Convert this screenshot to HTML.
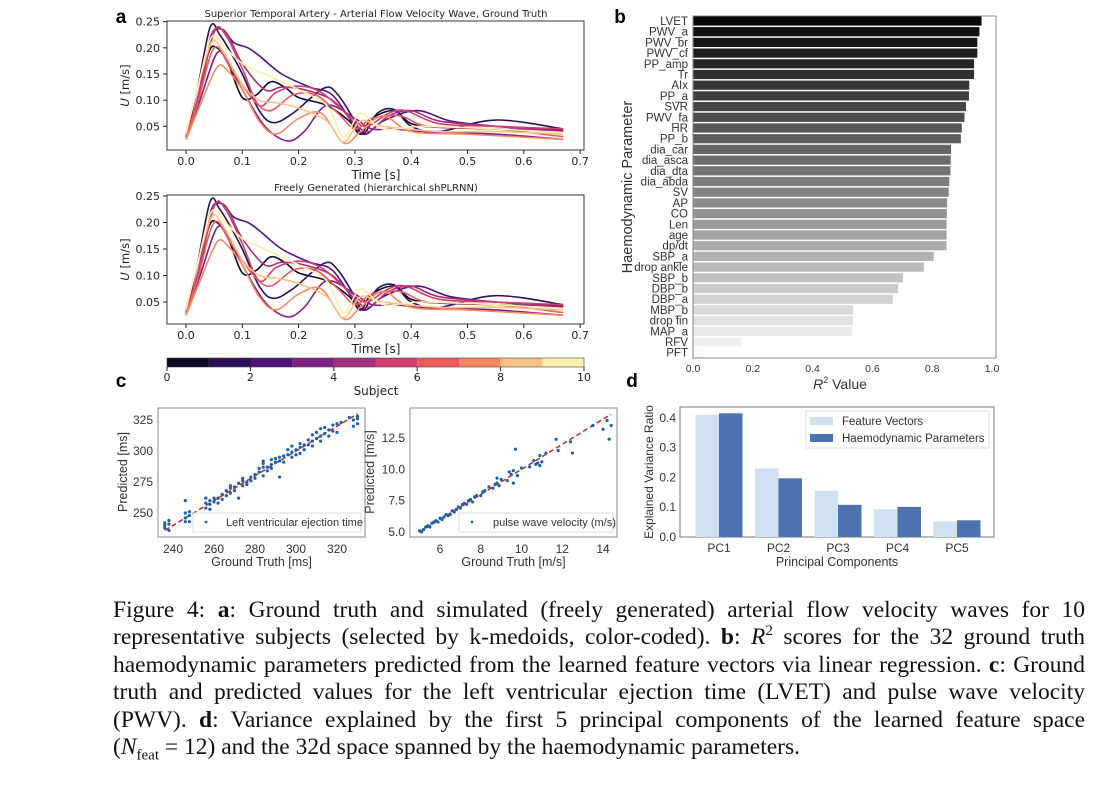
<!DOCTYPE html>
<html><head><meta charset="utf-8"><style>
body{margin:0;background:#fff;width:1116px;height:796px;overflow:hidden;position:relative}
svg{position:absolute;left:0;top:0}
.cap{position:absolute;left:113px;width:972px;font-family:"Liberation Serif",serif;font-size:23.5px;text-align:justify;text-align-last:justify;white-space:nowrap;line-height:28px;color:#111}
</style></head><body>
<svg id="fig" width="1116" height="796"></svg>
<div class="cap" style="top:596px">Figure 4: <b>a</b>: Ground truth and simulated (freely generated) arterial flow velocity waves for 10</div>
<div class="cap" style="top:623px">representative subjects (selected by k-medoids, color-coded). <b>b</b>: <i>R</i><sup style="font-size:15px;line-height:0">2</sup> scores for the 32 ground truth</div>
<div class="cap" style="top:651px">haemodynamic parameters predicted from the learned feature vectors via linear regression. <b>c</b>: Ground</div>
<div class="cap" style="top:678px">truth and predicted values for the left ventricular ejection time (LVET) and pulse wave velocity</div>
<div class="cap" style="top:706px">(PWV). <b>d</b>: Variance explained by the first 5 principal components of the learned feature space</div>
<div class="cap" style="top:733px;text-align-last:left;white-space:normal">(<i>N</i><sub style="font-size:15px;line-height:0">feat</sub> = 12) and the 32d space spanned by the haemodynamic parameters.</div>
<script>
const waveColors=["#0b0924","#2a1158","#51127c","#7c2382","#a3307e","#cf4070","#ef5a5e","#fb8861","#fec287","#fcefb0"];
const gtSeries=[
[[0,.035],[.02,.09],[.04,.19],[.055,.2],[.075,.17],[.1,.105],[.125,.11],[.15,.135],[.175,.125],[.2,.105],[.25,.09],[.29,.06],[.31,.035],[.33,.065],[.37,.08],[.4,.055],[.45,.048],[.55,.045],[.67,.04]],
[[0,.03],[.02,.12],[.043,.24],[.06,.225],[.08,.19],[.1,.15],[.13,.08],[.155,.057],[.19,.075],[.245,.123],[.27,.11],[.3,.06],[.315,.035],[.34,.075],[.37,.082],[.4,.05],[.45,.04],[.55,.062],[.67,.045]],
[[0,.03],[.02,.1],[.045,.22],[.065,.235],[.085,.21],[.11,.2],[.13,.185],[.17,.15],[.22,.125],[.26,.11],[.3,.05],[.32,.035],[.35,.06],[.41,.08],[.47,.06],[.55,.05],[.67,.042]],
[[0,.025],[.025,.1],[.055,.19],[.075,.17],[.1,.12],[.14,.05],[.18,.022],[.21,.04],[.25,.09],[.3,.065],[.33,.045],[.37,.045],[.42,.04],[.55,.035],[.67,.025]],
[[0,.03],[.02,.1],[.045,.225],[.07,.23],[.1,.17],[.14,.12],[.17,.125],[.21,.12],[.26,.1],[.3,.055],[.325,.04],[.36,.07],[.4,.08],[.45,.06],[.55,.05],[.67,.04]],
[[0,.03],[.02,.1],[.05,.23],[.07,.225],[.1,.16],[.13,.09],[.16,.115],[.2,.127],[.24,.115],[.29,.07],[.32,.05],[.36,.075],[.39,.08],[.45,.055],[.55,.05],[.67,.045]],
[[0,.03],[.02,.09],[.05,.2],[.08,.16],[.12,.1],[.15,.08],[.19,.11],[.23,.11],[.27,.075],[.3,.045],[.33,.065],[.38,.07],[.43,.05],[.55,.045],[.67,.03]],
[[0,.025],[.025,.09],[.055,.163],[.075,.155],[.1,.12],[.13,.06],[.16,.035],[.2,.065],[.24,.075],[.28,.018],[.31,.04],[.35,.07],[.4,.04],[.5,.035],[.67,.025]],
[[0,.035],[.02,.12],[.045,.21],[.065,.195],[.1,.13],[.13,.1],[.16,.095],[.2,.085],[.25,.06],[.28,.02],[.31,.06],[.35,.05],[.45,.04],[.55,.04],[.67,.035]],
[[0,.04],[.02,.12],[.045,.22],[.07,.2],[.1,.17],[.15,.145],[.2,.12],[.25,.09],[.28,.03],[.31,.075],[.35,.045],[.42,.05],[.55,.045],[.67,.038]]];
const genSeries=gtSeries; // freely generated waves closely match ground truth
const waveXTicks=["0.0","0.1","0.2","0.3","0.4","0.5","0.6","0.7"];
const waveYTicks=["0.05","0.10","0.15","0.20","0.25"];
const paramNames=["LVET","PWV_a","PWV_br","PWV_cf","PP_amp","Tr","AIx","PP_a","SVR","PWV_fa","HR","PP_b","dia_car","dia_asca","dia_dta","dia_abda","SV","AP","CO","Len","age","dp/dt","SBP_a","drop ankle","SBP_b","DBP_b","DBP_a","MBP_b","drop fin","MAP_a","RFV","PFT"];
const r2Values=[.965,.958,.951,.951,.94,.94,.924,.923,.913,.908,.899,.896,.863,.862,.861,.857,.855,.85,.849,.848,.848,.848,.805,.772,.702,.686,.668,.536,.535,.532,.162,.038];
const r2Ticks=["0.0","0.2","0.4","0.6","0.8","1.0"];
const lvetTruth=[236,236,236,238,238,238,246,246,246,246,248,248,248,256,256,256,258,258,258,260,260,262,262,264,264,266,266,268,268,268,270,270,272,272,274,274,274,276,276,278,278,280,280,282,282,284,284,284,284,286,286,288,288,288,290,290,292,292,292,294,294,296,296,298,298,298,300,300,302,302,302,304,304,306,306,308,308,308,310,310,312,312,312,314,314,316,316,318,318,320,320,322,326,328,328,330,330,330];
const lvetPred=[238,242,240,236,244,241,250,260,246,243,243,248,251,254,262,258,257,253,260,259,262,262,258,265,261,264,268,270,266,272,271,268,262,274,276,272,278,275,273,279,276,281,278,283,286,292,280,287,290,287,284,289,293,286,291,294,279,295,292,296,291,297,301,299,304,295,301,297,303,298,306,305,301,305,309,308,313,304,310,315,312,318,308,314,319,317,312,321,316,322,315,323,327,325,320,328,322,326];
const pwvTruth=[5.0,5.1,5.2,5.3,5.4,5.5,5.6,5.7,5.8,5.9,6.0,6.1,6.2,6.3,6.4,6.5,6.6,6.7,6.8,6.9,7.0,7.1,7.2,7.3,7.4,7.5,7.6,7.7,7.8,8.0,8.1,8.2,8.4,8.6,8.7,8.8,8.9,9.0,9.3,9.5,9.6,9.8,10.0,10.4,10.6,10.7,10.8,10.9,11.0,11.2,11.7,11.8,12.4,12.5,13.5,14.0,14.2,14.3,14.4,9.7,9.6,8.8,9.4,10.9];
const pwvPred=[5.1,5.0,5.2,5.4,5.5,5.4,5.7,5.8,5.9,5.8,6.1,6.0,6.2,6.4,6.3,6.4,6.7,6.6,6.8,7.0,6.9,7.2,7.3,7.2,7.5,7.6,7.4,7.8,7.9,7.9,8.2,8.3,8.6,8.5,8.8,8.9,8.7,9.2,9.1,9.6,9.9,9.5,10.1,10.2,10.7,10.4,10.5,11.1,10.6,11.3,12.4,11.5,12.2,11.3,13.5,13.2,13.9,12.4,13.5,11.6,8.9,9.3,9.8,10.3];
const pcNames=["PC1","PC2","PC3","PC4","PC5"];
const featVar=[.41,.23,.155,.093,.052];
const haemoVar=[.415,.197,.108,.101,.056];
const varTicks=["0.0","0.1","0.2","0.3","0.4"];

const svg=document.getElementById('fig');const NS='http://www.w3.org/2000/svg';
function el(tag,attrs,parent){const e=document.createElementNS(NS,tag);for(const k in attrs)e.setAttribute(k,attrs[k]);(parent||svg).appendChild(e);return e;}
function txt(x,y,s,size,anchor,fam,parent,extra){const t=el('text',Object.assign({x:x,y:y,'font-size':size,'text-anchor':anchor||'middle','font-family':fam||'"Liberation Sans",sans-serif',fill:'#222'},extra||{}),parent);t.textContent=s;return t;}
const DJ='"DejaVu Sans",sans-serif';
function smooth(pts){let d='M'+pts[0][0]+','+pts[0][1];for(let i=0;i<pts.length-1;i++){const p0=pts[Math.max(0,i-1)],p1=pts[i],p2=pts[i+1],p3=pts[Math.min(pts.length-1,i+2)];d+=' C'+(p1[0]+(p2[0]-p0[0])/6)+','+(p1[1]+(p2[1]-p0[1])/6)+' '+(p2[0]-(p3[0]-p1[0])/6)+','+(p2[1]-(p3[1]-p1[1])/6)+' '+p2[0]+','+p2[1];}return d;}

function wavePanel(series,top,bottom,y05,y25,title,name){
  const g=el('g',{});
  const xa=t=>186+t/0.1*56.3, ya=v=>y05-(v-0.05)/0.2*(y05-y25);
  el('rect',{x:167,y:top,width:417,height:bottom-top,fill:'none',stroke:'#222','stroke-width':0.9},g);
  waveXTicks.forEach(s=>{const x=xa(parseFloat(s));el('line',{x1:x,x2:x,y1:bottom,y2:bottom+4,stroke:'#222'},g);txt(x,bottom+15,s,11,'middle',DJ,g);});
  waveYTicks.forEach(s=>{const y=ya(parseFloat(s));el('line',{x1:163,x2:167,y1:y,y2:y,stroke:'#222'},g);txt(160,y+4,s,11,'end',DJ,g);});
  txt(376,bottom+29,'Time [s]',12,'middle',DJ,g);
  const yl=txt(0,0,'',11.5,'middle',DJ,g,{transform:'translate(129,'+((top+bottom)/2)+') rotate(-90)'});
  yl.innerHTML='<tspan font-style="italic">U</tspan> [m/s]';
  txt(376,top-4,title,10,'middle',DJ,g);
  series.forEach((s,i)=>{const p=el('path',{d:smooth(s.map(q=>[xa(q[0]),ya(q[1])])),fill:'none',stroke:waveColors[i],'stroke-width':1.6},g);});
}
wavePanel(gtSeries,21,150,126.3,21.7,'Superior Temporal Artery - Arterial Flow Velocity Wave, Ground Truth','ground-truth-wave-plot');
wavePanel(genSeries,195,324,302,196,'Freely Generated (hierarchical shPLRNN)','generated-wave-plot');
txt(121,23,'a',19,'middle','"Liberation Sans",sans-serif',null,{'font-weight':'bold',fill:'#000'});
const cb=el('g',{});
waveColors.forEach((c,i)=>el('rect',{x:167+i*41.7,y:358,width:41.8,height:9,fill:c},cb));
el('rect',{x:167,y:358,width:417,height:9,fill:'none',stroke:'#444','stroke-width':0.6},cb);
for(let i=0;i<=10;i+=2){const x=167+i*41.7;el('line',{x1:x,x2:x,y1:367,y2:371,stroke:'#222'},cb);txt(x,381,String(i),11,'middle',DJ,cb);}
txt(376,395,'Subject',12,'middle',DJ,cb);

const gb=el('g',{});
const xb=v=>693+v*299, yb=i=>21+i*10.7;
el('rect',{x:693,y:16,width:303,height:342,fill:'none',stroke:'#888','stroke-width':1},gb);
r2Values.forEach((v,i)=>{const g=Math.round(8+i*(240/31));const r=el('rect',{x:693.5,y:yb(i)-4.6,width:xb(v)-693.5,height:9.2,fill:'rgb('+g+','+g+','+g+')'},gb);
 txt(688,yb(i)+4,paramNames[i],11.5,'end',null,gb,{fill:'#333'});});
r2Ticks.forEach(s=>txt(xb(parseFloat(s)),372,s,10.5,'middle',null,gb,{fill:'#333'}));
const rl=txt(840,389,'',14,'middle',null,gb,{fill:'#333'});rl.innerHTML='<tspan font-style="italic">R</tspan><tspan dy="-6" font-size="9">2</tspan><tspan dy="6"> Value</tspan>';
txt(0,0,'Haemodynamic Parameter',14.5,'middle',null,gb,{transform:'translate(632,187) rotate(-90)',fill:'#333'});
txt(620,23,'b',19,'middle',null,null,{'font-weight':'bold',fill:'#000'});

function scatter(xs,ys,x0,x1,px0,px1,y0,y1,py0,py1,xt,yt,xlab,leg,legX,legTX,name){
  const g=el('g',{});
  const L=name==='lvet-scatter'?158:410;
  const sx=v=>px0+(v-x0)/(x1-x0)*(px1-px0), sy=v=>py0+(v-y0)/(y1-y0)*(py1-py0);
  el('rect',{x:L,y:408,width:207,height:129,fill:'none',stroke:'#888'},g);
  xt.forEach(v=>txt(sx(v),553,String(v),12,'middle',null,g,{fill:'#333'}));
  yt.forEach(v=>txt(L-5,sy(parseFloat(v))+4,v,12,'end',null,g,{fill:'#333'}));
  txt((L+L+207)/2,566,xlab,12.5,'middle',null,g,{fill:'#333'});
  const lo=Math.min(...xs),hi=Math.max(...xs);
  el('line',{x1:sx(lo),y1:sy(lo),x2:sx(hi),y2:sy(hi),stroke:'#c0282a','stroke-width':1.5,'stroke-dasharray':'5,3'},g);
  xs.forEach((v,i)=>{const c=el('circle',{cx:sx(v),cy:sy(ys[i]),r:1.6,fill:'#1f5fa5'},g);});
  el('rect',{x:legX,y:513,width:L+207-4-legX,height:19,fill:'#fff','fill-opacity':0.8,stroke:'#ddd'},g);
  el('circle',{cx:legX+13,cy:522,r:1.4,fill:'#1f5fa5'},g);
  txt(legTX,526,leg,11,'start',null,g,{fill:'#333'});
  return g;
}
scatter(lvetTruth,lvetPred,240,320,173,337,325,250,420,513,[240,260,280,300,320],["250","275","300","325"],'Ground Truth [ms]','Left ventricular ejection time',193,226,'lvet-scatter');
scatter(pwvTruth,pwvPred,6,14,440,603,12.5,5.0,438,532,[6,8,10,12,14],["5.0","7.5","10.0","12.5"],'Ground Truth [m/s]','pulse wave velocity (m/s)',459,493,'pwv-scatter');
txt(0,0,'Predicted [ms]',12.5,'middle',null,null,{transform:'translate(127,472) rotate(-90)',fill:'#333'});
txt(0,0,'Predicted [m/s]',12.5,'middle',null,null,{transform:'translate(374,472) rotate(-90)',fill:'#333'});
txt(121,387,'c',19,'middle',null,null,{'font-weight':'bold',fill:'#000'});

const gd=el('g',{});
const yd=v=>537-v/0.1*29.8, xd=i=>719+i*59.5;
el('rect',{x:680,y:407,width:314,height:130,fill:'none',stroke:'#777'},gd);
pcNames.forEach((n,i)=>{
 const a=el('rect',{x:xd(i)-23.5,y:yd(featVar[i]),width:23.5,height:537-yd(featVar[i]),fill:'#cfe0f1'},gd);
 const b=el('rect',{x:xd(i),y:yd(haemoVar[i]),width:23.5,height:537-yd(haemoVar[i]),fill:'#4c72b0'},gd);
 txt(xd(i),552,n,12,'middle',null,gd,{fill:'#333'});});
varTicks.forEach(s=>txt(676,yd(parseFloat(s))+4,s,12,'end',null,gd,{fill:'#333'}));
txt(837,566,'Principal Components',12.5,'middle',null,gd,{fill:'#333'});
txt(0,0,'Explained Variance Ratio',12,'middle',null,gd,{transform:'translate(653,472) rotate(-90)',fill:'#333'});
const lg=el('g',{},gd);
el('rect',{x:806,y:411,width:183,height:37,fill:'#fff','fill-opacity':0.85,stroke:'#ddd'},lg);
el('rect',{x:810,y:417,width:23,height:8,fill:'#cfe0f1'},lg);
el('rect',{x:810,y:434,width:23,height:8,fill:'#4c72b0'},lg);
txt(842,425,'Feature Vectors',11.5,'start',null,lg,{fill:'#333'});
txt(842,442,'Haemodynamic Parameters',11.5,'start',null,lg,{fill:'#333'});
txt(632,387,'d',19,'middle',null,null,{'font-weight':'bold',fill:'#000'});
</script>
</body></html>
